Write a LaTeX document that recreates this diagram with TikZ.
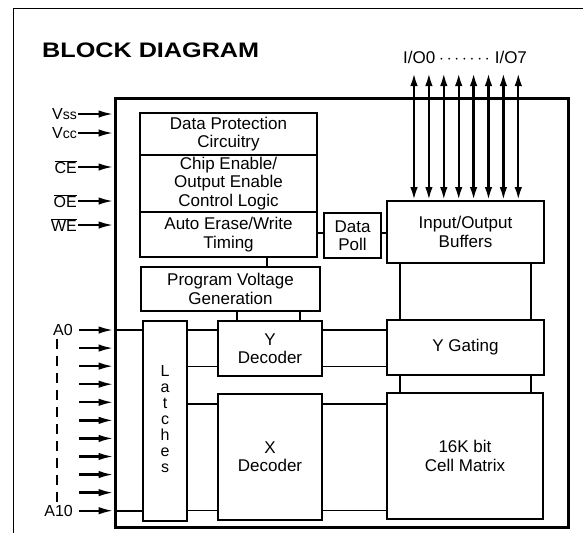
\documentclass[tikz,border=0pt]{standalone}
\usepackage{fontspec}
\usepackage{graphicx}
\setmainfont{Liberation Sans}
\usetikzlibrary{arrows.meta}
\newcommand{\ovl}[1]{$\overline{\hbox{#1}}$}
\tikzset{
  blk/.style={draw, line width=1.8pt, inner sep=0pt, align=center, font=\fontsize{17}{18.5}\selectfont},
  wire/.style={line width=1.8pt},
  arr/.style={line width=2.3pt, -{Latex[length=15pt,width=7.5pt]}},
  darr/.style={line width=2.3pt, {Latex[length=13pt,width=7.5pt]}-{Latex[length=13pt,width=7.5pt]}},
  sig/.style={anchor=east, inner sep=1pt, font=\fontsize{16}{16}\selectfont},
}
\begin{document}
\begin{tikzpicture}[x=1pt, y=-1pt]
\useasboundingbox (0,0) rectangle (583,533);
% outer frame (cropped)
\draw[line width=0.9pt] (583,8) -- (13,8) -- (13,533);
% title
\node[anchor=west, inner sep=0pt, font=\bfseries\fontsize{21}{21}\selectfont] (title) at (42,50) {\scalebox{1.2}[1]{BLOCK DIAGRAM}};
% chip
\node[draw, line width=3pt, minimum width=453pt, minimum height=429pt, inner sep=0pt] (chip) at (341.5,312.5) {};
% blocks
\node[blk, minimum width=177pt, minimum height=42pt] (dp) at (228.5,134) {Data Protection\\Circuitry};
\node[blk, minimum width=177pt, minimum height=57pt] (ce) at (228.5,183.5) {Chip Enable/\\Output Enable\\Control Logic};
\node[blk, minimum width=177pt, minimum height=45pt] (ae) at (228.5,234.5) {Auto Erase/Write\\Timing};
\node[blk, minimum width=179pt, minimum height=44pt] (pvg) at (230.5,289) {Program Voltage\\Generation};
\node[blk, minimum width=57pt, minimum height=45pt] (poll) at (352.5,235.5) {Data\\Poll};
\node[blk, minimum width=157pt, minimum height=62pt] (iob) at (465.5,232) {Input/Output\\Buffers};
\node[blk, minimum width=157pt, minimum height=55pt] (yg) at (465.5,347.5) {Y Gating};
\node[blk, minimum width=156pt, minimum height=126pt] (cm) at (465,456) {16K bit\\Cell Matrix};
\node[blk, minimum width=104pt, minimum height=55pt, font=\fontsize{17}{18}\selectfont] (yd) at (270,348.5) {Y\\Decoder};
\node[blk, minimum width=104pt, minimum height=126pt, font=\fontsize{17}{18}\selectfont] (xd) at (270,457) {X\\Decoder};
\node[blk, minimum width=44pt, minimum height=200pt, font=\fontsize{16}{16}\selectfont] (lat) at (165,421) {\raisebox{9pt}{\begin{tabular}{@{}c@{}}L\\a\\t\\c\\h\\e\\s\end{tabular}}};
% helper positions
\coordinate (x237) at (237,0);
\coordinate (x300) at (300,0);
\coordinate (x267) at (267,0);
\coordinate (x400) at (400,0);
\coordinate (x531) at (531,0);
\coordinate (y233) at (0,233);
\coordinate (y330) at (0,330);
\coordinate (y366) at (0,366.5);
\coordinate (y404) at (0,404);
\coordinate (y510) at (0,510.5);
% internal wires
\draw[wire] (ae.south -| x267) -- (pvg.north -| x267);
\draw[wire] (pvg.south -| x237) -- (yd.north -| x237);
\draw[wire] (pvg.south -| x300) -- (yd.north -| x300);
\draw[wire] (ae.east |- y233) -- (poll.west |- y233);
\draw[wire] (poll.east |- y233) -- (iob.west |- y233);
\draw[wire] (iob.south -| x400) -- (yg.north -| x400);
\draw[wire] (iob.south -| x531) -- (yg.north -| x531);
\draw[wire] (yg.south -| x400) -- (cm.north -| x400);
\draw[wire] (yg.south -| x531) -- (cm.north -| x531);
\draw[wire] (yd.east |- y330) -- (yg.west |- y330);
\draw[wire] (yd.east |- y366) -- (yg.west |- y366);
\draw[wire] (xd.east |- y404) -- (cm.west |- y404);
\draw[wire] (xd.east |- y510) -- (cm.west |- y510);
\draw[wire] (lat.east |- y330) -- (yd.west |- y330);
\draw[wire] (lat.east |- y366) -- (yd.west |- y366);
\draw[wire] (lat.east |- y404) -- (xd.west |- y404);
\draw[wire] (lat.east |- y510) -- (xd.west |- y510);
% control signals
\node[sig] (vss) at (78,114) {V\fontsize{14}{14}\selectfont ss};
\node[sig] (vcc) at (78,133) {V\fontsize{14}{14}\selectfont cc};
\node[sig] (nce) at (78,167) {\ovl{CE}};
\node[sig] (noe) at (78,201) {\ovl{OE}};
\node[sig] (nwe) at (78,225) {\ovl{WE}};
\foreach \s in {vss,vcc,nce,noe,nwe} {
  \draw[arr] (\s.east) -- (\s.east -| chip.west);
}
% address inputs
\node[sig] (a0) at (74,330) {A0};
\node[sig] (a10) at (74,510.7) {A10};
\foreach \i in {0,...,10} {
  \coordinate (ad\i) at (79,{330+18.07*\i});
  \draw[arr] (ad\i) -- (ad\i -| chip.west);
}
\draw[wire] (ad0 -| chip.west) -- (ad0 -| lat.west);
\draw[wire] (ad10 -| chip.west) -- (ad10 -| lat.west);
\coordinate (dtop) at (57,339);
\coordinate (dbot) at (57,504);
\draw[line width=2.6pt, dash pattern=on 10pt off 7pt] (dtop) -- (dbot);
% I/O lines
\foreach \i in {0,...,7} {
  \coordinate (io\i) at ({414+14.9*\i},73);
  \draw[darr] (io\i) -- (io\i |- iob.north);
}
\node[font=\fontsize{17}{17}\selectfont, inner sep=0pt] (iolab) at (465,57) {I/O0\hspace{4pt}{\bfseries$\cdot$\,$\cdot$\,$\cdot$\,$\cdot$\,$\cdot$\,$\cdot$\,$\cdot$}\hspace{5pt}I/O7};
\end{tikzpicture}
\end{document}
